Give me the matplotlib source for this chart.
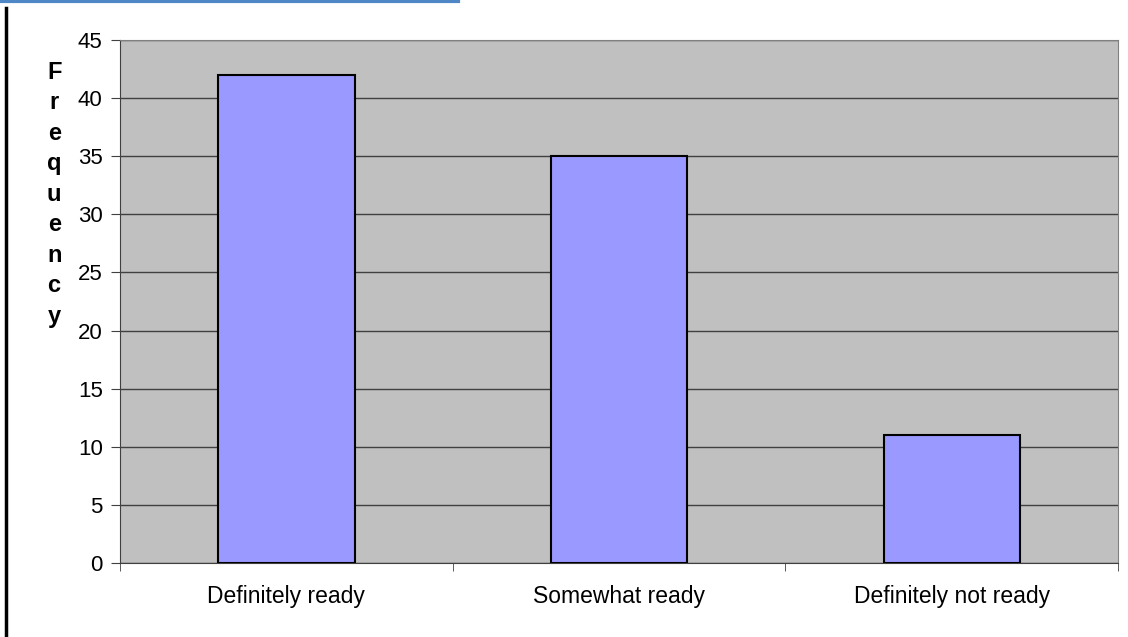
import matplotlib.pyplot as plt
from matplotlib.lines import Line2D

# Survey answers and their counts
categories = ['Definitely ready', 'Somewhat ready', 'Definitely not ready']
frequency = [42, 35, 11]
y_ticks = [0, 5, 10, 15, 20, 25, 30, 35, 40, 45]

plt.rcParams['font.family'] = ['Liberation Sans', 'DejaVu Sans']

fig = plt.figure(figsize=(11.28, 6.37), dpi=100)
ax = fig.add_axes([0.1064, 0.1162, 0.8848, 0.8210])
ax.set_facecolor('#C0C0C0')

x = list(range(len(categories)))
ax.bar(x, frequency, width=0.41, color='#9999FF', edgecolor='black', linewidth=1.5, zorder=3)

ax.set_xlim(-0.5, len(categories) - 0.5)
ax.set_ylim(0, 45)
ax.set_yticks(y_ticks)
ax.yaxis.grid(True, color='#404040', linewidth=1, zorder=1)
ax.set_axisbelow(True)

# category labels centred under bars, tick marks between categories
ax.set_xticks(x)
ax.set_xticklabels(categories, fontsize=16.5)
ax.tick_params(axis='x', length=0, pad=16)
ax.set_xticks([-0.5, 0.5, 1.5, 2.5], minor=True)
ax.tick_params(axis='x', which='minor', length=6, color='#404040', direction='out')
ax.tick_params(axis='y', labelsize=16, length=6.5, color='#404040', pad=6)

for side in ['top', 'right']:
    ax.spines[side].set_color('#808080')
for side in ['left', 'bottom']:
    ax.spines[side].set_color('#404040')

# vertical stacked y label
fig.text(0.048, 0.905, '\n'.join('Frequency'), fontsize=17, fontweight='bold',
         ha='center', va='top', linespacing=1.42)

# page decorations
fig.add_artist(Line2D([0.0053, 0.0053], [0, 0.987], color='black', linewidth=2.5))
fig.add_artist(Line2D([0, 0.406], [0.998, 0.998], color='#4F87C6', linewidth=3))

fig.savefig('out.png', dpi=100)
